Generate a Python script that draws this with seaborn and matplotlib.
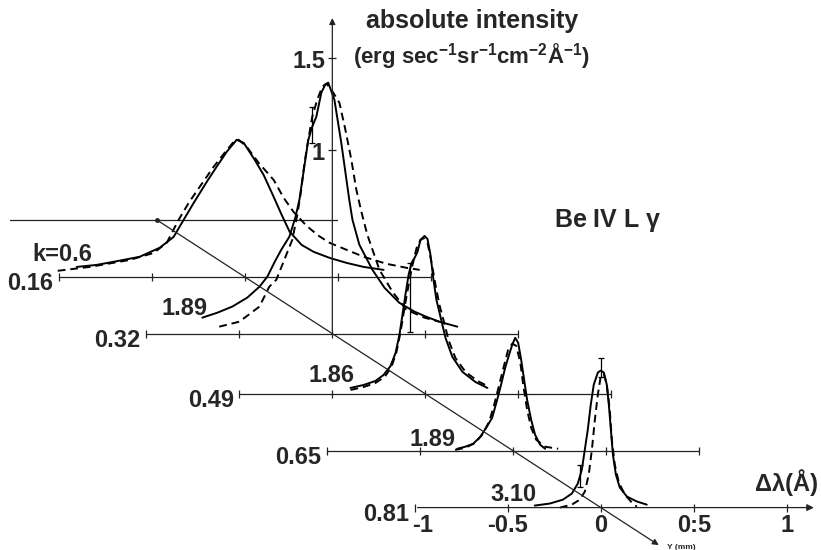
import numpy as np
import pandas as pd
import matplotlib
matplotlib.use('Agg')
import matplotlib.pyplot as plt
import seaborn as sns

# distance Y (mm) of each profile and the k value written next to it
ROW_Y = [0.16, 0.32, 0.49, 0.65, 0.81]
ROW_K = ['k=0.6', '1.89', '1.86', '1.89', '3.10']
TICKS_DL = [-1, -0.5, 0, 0.5, 1]
TICK_LABELS = ['-1', '-0.5', '0', '0:5', '1']
INT_TICKS = [1, 1.5]

# measured (solid) and fitted (dashed) profiles: delta lambda (A), intensity
meas_016_dl = [-0.903, -0.796, -0.704, -0.565, -0.457, -0.382, -0.328, -0.274, -0.204, -0.151, -0.097, -0.043,
               -0.005, 0.054, 0.102, 0.151, 0.199, 0.242, 0.306, 0.371, 0.457, 0.548, 0.640, 0.747]
meas_016_i = [0.054, 0.065, 0.082, 0.109, 0.158, 0.217, 0.310, 0.402, 0.516, 0.598, 0.679, 0.745,
              0.728, 0.636, 0.554, 0.446, 0.337, 0.245, 0.174, 0.136, 0.103, 0.076, 0.054, 0.038]
fit_016_dl = [-1.005, -0.833, -0.618, -0.489, -0.419, -0.355, -0.301, -0.231, -0.167, -0.108, -0.059, -0.032,
              0.011, 0.075, 0.156, 0.210, 0.263, 0.333, 0.398, 0.457, 0.548, 0.640, 0.763, 0.871, 0.941]
fit_016_i = [0.033, 0.054, 0.092, 0.130, 0.185, 0.310, 0.402, 0.505, 0.598, 0.674, 0.734, 0.745,
             0.707, 0.620, 0.527, 0.429, 0.353, 0.277, 0.223, 0.185, 0.147, 0.109, 0.071, 0.049, 0.038]

meas_032_dl = [-0.699, -0.618, -0.538, -0.457, -0.392, -0.349, -0.312, -0.274, -0.231, -0.199, -0.177, -0.161,
               -0.145, -0.129, -0.108, -0.086, -0.059, -0.038, -0.022, 0.011, 0.048, 0.091, 0.108, 0.145,
               0.215, 0.280, 0.360, 0.441, 0.505, 0.575, 0.672]
meas_032_i = [0.087, 0.114, 0.147, 0.196, 0.255, 0.310, 0.386, 0.457, 0.527, 0.630, 0.728, 0.837,
              0.946, 1.054, 1.125, 1.179, 1.310, 1.353, 1.364, 1.272, 1.038, 0.728, 0.620, 0.484,
              0.348, 0.250, 0.168, 0.120, 0.092, 0.065, 0.038]
fit_032_dl = [-0.608, -0.500, -0.392, -0.339, -0.301, -0.258, -0.215, -0.188, -0.167, -0.151, -0.134, -0.108,
              -0.081, -0.054, -0.032, -0.005, 0.038, 0.070, 0.102, 0.129, 0.156, 0.188, 0.253, 0.323,
              0.398, 0.495, 0.575]
fit_032_i = [0.038, 0.065, 0.147, 0.255, 0.293, 0.402, 0.511, 0.647, 0.783, 0.918, 1.027, 1.179,
             1.272, 1.342, 1.359, 1.326, 1.255, 1.109, 0.946, 0.783, 0.663, 0.538, 0.348, 0.228,
             0.130, 0.087, 0.065]

meas_049_dl = [-0.403, -0.333, -0.269, -0.226, -0.188, -0.161, -0.140, -0.124, -0.108, -0.091, -0.075, -0.059,
               -0.043, -0.027, -0.005, 0.011, 0.027, 0.043, 0.059, 0.081, 0.108, 0.145, 0.199, 0.269, 0.333]
meas_049_i = [0.033, 0.049, 0.071, 0.103, 0.152, 0.223, 0.321, 0.429, 0.538, 0.647, 0.712, 0.739,
              0.772, 0.837, 0.859, 0.842, 0.755, 0.620, 0.511, 0.418, 0.304, 0.201, 0.120, 0.065, 0.033]
fit_049_dl = [-0.403, -0.333, -0.269, -0.220, -0.183, -0.156, -0.134, -0.113, -0.091, -0.070, -0.048, -0.027,
              -0.011, 0.011, 0.032, 0.054, 0.075, 0.097, 0.124, 0.161, 0.215, 0.280, 0.333]
fit_049_i = [0.022, 0.038, 0.060, 0.092, 0.147, 0.228, 0.337, 0.467, 0.592, 0.701, 0.793, 0.837,
             0.848, 0.821, 0.717, 0.592, 0.484, 0.402, 0.293, 0.196, 0.120, 0.071, 0.043]

meas_065_dl = [-0.301, -0.258, -0.215, -0.177, -0.145, -0.113, -0.086, -0.065, -0.043, -0.022, -0.005, 0.011,
               0.027, 0.043, 0.059, 0.075, 0.097, 0.118, 0.145, 0.172]
meas_065_i = [0.011, 0.022, 0.038, 0.076, 0.125, 0.179, 0.277, 0.359, 0.451, 0.522, 0.576, 0.614,
              0.587, 0.495, 0.386, 0.277, 0.168, 0.087, 0.033, 0.011]
fit_065_dl = [-0.312, -0.258, -0.204, -0.167, -0.129, -0.102, -0.075, -0.048, -0.027, -0.005, 0.016, 0.038,
              0.054, 0.075, 0.097, 0.124, 0.172, 0.242]
fit_065_i = [0.005, 0.016, 0.043, 0.087, 0.158, 0.250, 0.359, 0.467, 0.549, 0.582, 0.571, 0.484,
             0.359, 0.223, 0.125, 0.060, 0.022, 0.011]

meas_081_dl = [-0.355, -0.274, -0.204, -0.156, -0.124, -0.102, -0.086, -0.070, -0.054, -0.038, -0.016, 0.0,
               0.016, 0.032, 0.043, 0.054, 0.065, 0.081, 0.102, 0.140, 0.194, 0.247]
meas_081_i = [0.011, 0.022, 0.043, 0.076, 0.130, 0.207, 0.315, 0.424, 0.560, 0.668, 0.734, 0.745,
              0.734, 0.668, 0.560, 0.424, 0.288, 0.179, 0.109, 0.060, 0.033, 0.016]
fit_081_dl = [-0.220, -0.156, -0.113, -0.086, -0.065, -0.048, -0.032, -0.016, 0.0, 0.016, 0.032, 0.048,
              0.059, 0.075, 0.097, 0.129, 0.167, 0.194]
fit_081_i = [0.0, 0.016, 0.043, 0.087, 0.179, 0.315, 0.478, 0.614, 0.717, 0.728, 0.668, 0.533,
             0.370, 0.234, 0.136, 0.071, 0.027, 0.005]

# error bars: row Y, delta lambda, low, high intensity
ERR_Y = [0.32, 0.49, 0.81, 0.81]
ERR_DL = [-0.108, -0.081, 0.0, -0.113]
ERR_LO = [1.038, 0.337, 0.71, 0.114]
ERR_HI = [1.234, 0.712, 0.815, 0.234]

# oblique projection of the (delta lambda, Y, intensity) space
SHEAR = 2.946   # A of horizontal shift per mm of Y
DROP = 1.929    # intensity units of downward shift per mm of Y


def proj(dl, inten, y):
    return np.asarray(dl) + SHEAR * y, np.asarray(inten) - DROP * y


sns.set_style('white')
plt.rcParams['font.family'] = ['Liberation Sans', 'DejaVu Sans']
plt.rcParams['font.weight'] = 'bold'
plt.rcParams['mathtext.fontset'] = 'custom'
plt.rcParams['mathtext.bf'] = 'Liberation Sans:bold'
plt.rcParams['mathtext.rm'] = 'Liberation Sans:bold'
plt.rcParams['mathtext.default'] = 'bf'

profiles = [
    (0.16, 'measured', meas_016_dl, meas_016_i), (0.16, 'fit', fit_016_dl, fit_016_i),
    (0.32, 'measured', meas_032_dl, meas_032_i), (0.32, 'fit', fit_032_dl, fit_032_i),
    (0.49, 'measured', meas_049_dl, meas_049_i), (0.49, 'fit', fit_049_dl, fit_049_i),
    (0.65, 'measured', meas_065_dl, meas_065_i), (0.65, 'fit', fit_065_dl, fit_065_i),
    (0.81, 'measured', meas_081_dl, meas_081_i), (0.81, 'fit', fit_081_dl, fit_081_i),
]
frames = []
for y, kind, dl, inten in profiles:
    u, v = proj(dl, inten, y)
    frames.append(pd.DataFrame({'u': u, 'v': v, 'row': y, 'kind': kind}))
df = pd.concat(frames, ignore_index=True)

fig = plt.figure(figsize=(8.21, 5.5), dpi=100)
ax = fig.add_axes([0, 0, 1, 1])
ax.set_xlim(-0.844, 3.570)
ax.set_ylim(-1.793, 1.196)
ax.axis('off')

axis_kw = dict(color='#222222', lw=0.9)
NUM_SIZE = 17

# baselines of every profile
for y, k in zip(ROW_Y, ROW_K):
    end = 1.16 if y == ROW_Y[-1] else 1.0
    u, v = proj([-1, end], [0, 0], y)
    if y == ROW_Y[-1]:
        ax.annotate('', xy=(u[1], v[1]), xytext=(u[0], v[0]),
                    arrowprops=dict(arrowstyle='-|>', color='#222222', lw=0.9, mutation_scale=10))
    else:
        ax.plot(u, v, **axis_kw)
    tu, tv = proj(TICKS_DL, [0] * len(TICKS_DL), y)
    ax.plot(tu, tv, ls='none', marker='|', ms=6, mew=0.9, color='#222222')
    lu, lv = proj(-1.03, -0.035, y)
    ax.text(lu, lv, f'{y:.2f}', ha='right', va='center', fontsize=NUM_SIZE)

# plane Y = 0 and the oblique Y axis
u, v = proj([-0.79, 0.97], [0, 0], 0)
ax.plot(u, v, **axis_kw)
u, v = proj([0, 0], [0, 0], np.array([0, 0.92]))
ax.annotate('', xy=(u[1], v[1]), xytext=(u[0], v[0]),
            arrowprops=dict(arrowstyle='-|>', color='#222222', lw=0.9, mutation_scale=9))
ax.plot(u[0], v[0], marker='o', ms=2.5, color='#222222')
ax.text(u[1] + 0.03, v[1] - 0.005, 'Y (mm)', fontsize=6, ha='left', va='center')

# intensity axis standing on the Y = 0.32 row
u, v = proj([0, 0], [0, 1.73], 0.32)
ax.annotate('', xy=(u[1], v[1]), xytext=(u[0], v[0]),
            arrowprops=dict(arrowstyle='-|>', color='#222222', lw=0.9, mutation_scale=9))
tu, tv = proj([0, 0], INT_TICKS, 0.32)
ax.plot(tu, tv, ls='none', marker='_', ms=6, mew=0.9, color='#222222')
for t, uu, vv in zip(INT_TICKS, tu, tv):
    ax.text(uu - 0.04, vv - 0.02, f'{t:g}', ha='right', va='center', fontsize=NUM_SIZE)

# profiles
sns.lineplot(data=df, x='u', y='v', units='row', estimator=None, style='kind',
             style_order=['measured', 'fit'], dashes={'measured': '', 'fit': (4, 2.5)},
             color='black', lw=1.4, sort=False, legend=False, ax=ax)

# error bars
for y, dl, lo, hi in zip(ERR_Y, ERR_DL, ERR_LO, ERR_HI):
    u, v = proj([dl, dl], [lo, hi], y)
    ax.plot(u, v, color='black', lw=0.9)
    ax.plot(u, v, ls='none', marker='_', ms=4, mew=0.9, color='black')

# k labels next to the left wings
K_DL = [-0.82, -0.67, -0.38, -0.31, -0.344]
K_I = [0.12, 0.136, 0.098, 0.06, 0.07]
for y, k, dl, inten in zip(ROW_Y, ROW_K, K_DL, K_I):
    u, v = proj(dl, inten, y)
    ax.text(u, v, k, ha='right', va='center', fontsize=NUM_SIZE)

# wavelength tick labels under the last row
for t, lab in zip(TICKS_DL, TICK_LABELS):
    u, v = proj(t + (0.04 if t == -1 else 0), -0.095, ROW_Y[-1])
    ax.text(u, v, lab, ha='center', va='center', fontsize=NUM_SIZE)
u, v = proj(1.0, 0.136, ROW_Y[-1])
ax.text(u, v, 'Δλ(Å)', ha='center', va='center', fontsize=NUM_SIZE)

# axis title and line name
u, v = proj(0.75, 1.70, 0.32)
ax.text(u, v, 'absolute intensity', ha='center', va='center', fontsize=18)
ax.text(u, v - 0.19, '(erg sec$^{-1}$sr$^{-1}$cm$^{-2}$Å$^{-1}$)', ha='center', va='center', fontsize=16)
ax.text(2.425, 0.0, 'Be IV L $\\gamma$', ha='center', va='center', fontsize=18)

fig.savefig('out.png', dpi=100)
